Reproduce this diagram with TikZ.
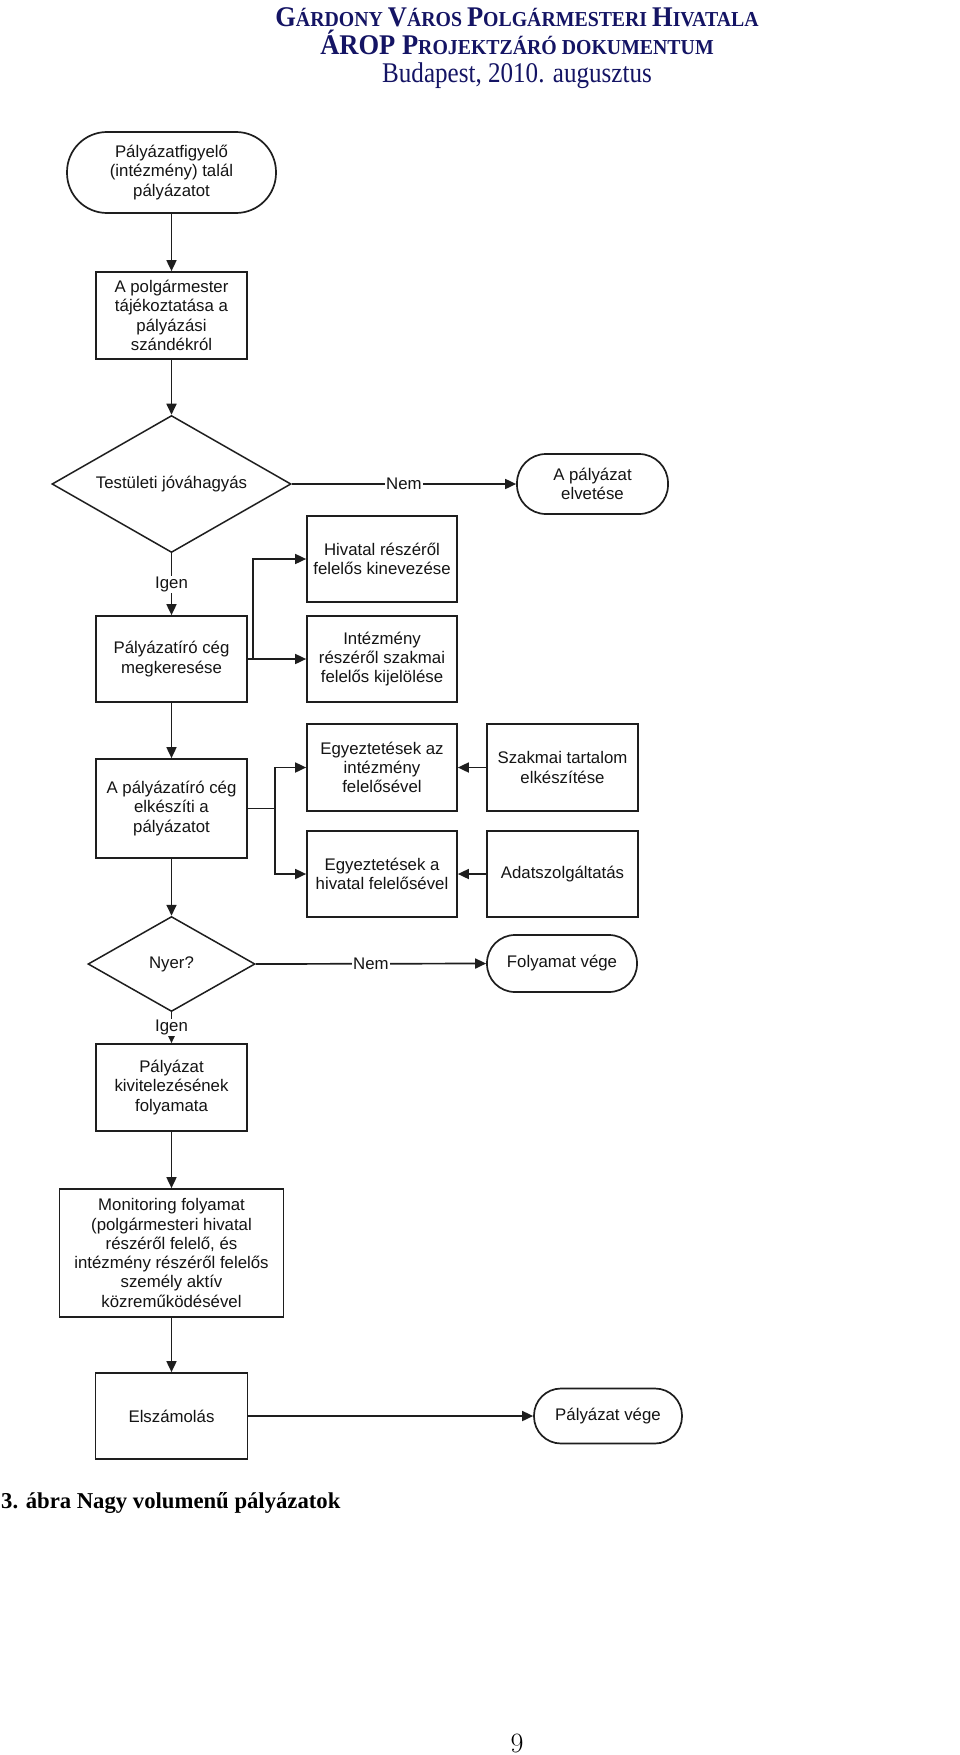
\documentclass[tikz,border=0pt]{standalone}
\usepackage{fontspec}
\usepackage{graphicx}
\usetikzlibrary{shapes.geometric,arrows.meta}
\setmainfont{Liberation Serif}
\newfontfamily\arialfont{Liberation Sans}
\definecolor{hdrblue}{RGB}{20,20,100}
\definecolor{lc}{RGB}{30,30,30}
\definecolor{tc}{RGB}{20,20,20}
\newcommand{\diagfont}{\arialfont\fontsize{16.8}{19.3}\selectfont}
\newcommand{\hbig}{\fontsize{28.5}{30}\selectfont}
\newcommand{\hsm}{\fontsize{21.3}{22}\selectfont}
\tikzset{
  box/.style={draw=lc, line width=1.7pt, fill=white, align=center, inner sep=0pt,
    minimum width=151pt, minimum height=86pt, font=\diagfont, text=tc},
  term/.style={box, minimum width=150pt},
  dec/.style={diamond, draw=lc, line width=1.5pt, fill=white, align=center, inner sep=0pt,
    font=\diagfont, text=tc},
  lbl/.style={fill=white, inner sep=1pt, font=\diagfont, text=tc},
  arr/.style={draw=lc, line width=1.7pt, -{Triangle[length=11pt,width=10pt]}},
  hdr/.style={anchor=base, inner sep=0pt, text=hdrblue}
}
\begin{document}
\begin{tikzpicture}[x=1pt,y=-1pt]
\useasboundingbox[fill=white] (0,0) rectangle (960,1755);
% header
\node[hdr] (h1) at (517,26.7) {\scalebox{0.93}[1]{\bfseries\hbig G\hsm ÁRDONY \hbig V\hsm ÁROS \hbig P\hsm OLGÁRMESTERI \hbig H\hsm IVATALA}};
\node[hdr] (h2) at (517,55) {\scalebox{0.93}[1]{\bfseries\hbig ÁROP P\hsm ROJEKTZÁRÓ DOKUMENTUM}};
\node[hdr] (h3) at (517,82.3) {\scalebox{0.88}[1]{\hbig Budapest, 2010. augusztus}};
% nodes
\node[term, minimum width=209pt, minimum height=81pt, rounded corners=40pt] (t1) at (171.5,172.5)
  {Pályázatfigyelő\\(intézmény) talál\\pályázatot};
\node[box, minimum height=87pt] (b2) at (171.5,315.5)
  {A polgármester\\tájékoztatása a\\pályázási\\szándékról};
\node[dec, minimum width=239pt, minimum height=137pt, aspect=1.745] (d1) at (171.5,484)
  {Testületi jóváhagyás};
\node[term, minimum width=151pt, minimum height=60pt, rounded corners=29pt] (t2) at (592.5,484)
  {A pályázat\\elvetése};
\node[box, minimum width=150pt] (hiv) at (382,559) {Hivatal részéről\\felelős kinevezése};
\node[box] (pcm) at (171.5,659) {Pályázatíró cég\\megkeresése};
\node[box, minimum width=150pt] (int) at (382,659) {Intézmény\\részéről szakmai\\felelős kijelölése};
\node[box, minimum height=99pt] (elk) at (171.5,808.5) {A pályázatíró cég\\elkészíti a\\pályázatot};
\node[box, minimum width=150pt, minimum height=87pt] (eaz) at (382,767.5) {Egyeztetések az\\intézmény\\felelősével};
\node[box, minimum width=150pt] (ea) at (382,874) {Egyeztetések a\\hivatal felelősével};
\node[box, minimum height=87pt] (szt) at (562.5,767.5) {Szakmai tartalom\\elkészítése};
\node[box] (ads) at (562.5,874) {Adatszolgáltatás};
\node[dec, minimum width=167pt, minimum height=95pt, aspect=1.76] (d2) at (171.5,964) {Nyer?};
\node[term, minimum height=57pt, rounded corners=28pt] (fv) at (562,963.5) {Folyamat vége};
\node[box, minimum height=87pt] (kiv) at (171.5,1087.5) {Pályázat\\kivitelezésének\\folyamata};
\node[box, minimum width=224pt, minimum height=128pt] (mon) at (171.5,1253)
  {Monitoring folyamat\\(polgármesteri hivatal\\részéről felelő, és\\intézmény részéről felelős\\személy aktív\\közreműködésével};
\node[box, minimum width=152pt] (elsz) at (171.5,1416) {Elszámolás};
\node[term, minimum width=148pt, minimum height=55pt, rounded corners=27pt] (pv) at (608,1416) {Pályázat vége};
% connectors
\draw[arr] (t1) -- (b2);
\draw[arr] (b2) -- (d1);
\draw[arr] (d1.east) -- node[lbl]{Nem} (t2.west);
\draw[arr] (d1.south) -- node[lbl]{Igen} (pcm.north);
\coordinate (br1) at (253,659);
\draw[arr] (pcm.east) -- (br1) |- (hiv.west);
\draw[arr] (br1) -- (int.west);
\draw[arr] (pcm) -- (elk);
\coordinate (br2) at (275,808.5);
\draw[arr] (elk.east) -- (br2) |- (eaz.west);
\draw[arr] (br2) |- (ea.west);
\draw[arr] (szt) -- (eaz);
\draw[arr] (ads) -- (ea);
\draw[arr] (elk) -- (d2);
\draw[arr] (d2.east) -- node[lbl]{Nem} (fv.west);
\draw[arr] (d2.south) -- node[lbl]{Igen} (kiv.north);
\draw[arr] (kiv) -- (mon);
\draw[arr] (mon) -- (elsz);
\draw[arr] (elsz) -- (pv);
% caption and page number
\node[anchor=base west, inner sep=0pt, font=\bfseries\fontsize{22.7}{24}\selectfont] (cap) at (1,1508)
  {3. ábra Nagy volumenű pályázatok};
\node[anchor=base, inner sep=0pt, font=\fontfamily{lmr}\fontsize{28}{30}\selectfont] (pg) at (517,1752) {9};
\end{tikzpicture}
\end{document}
